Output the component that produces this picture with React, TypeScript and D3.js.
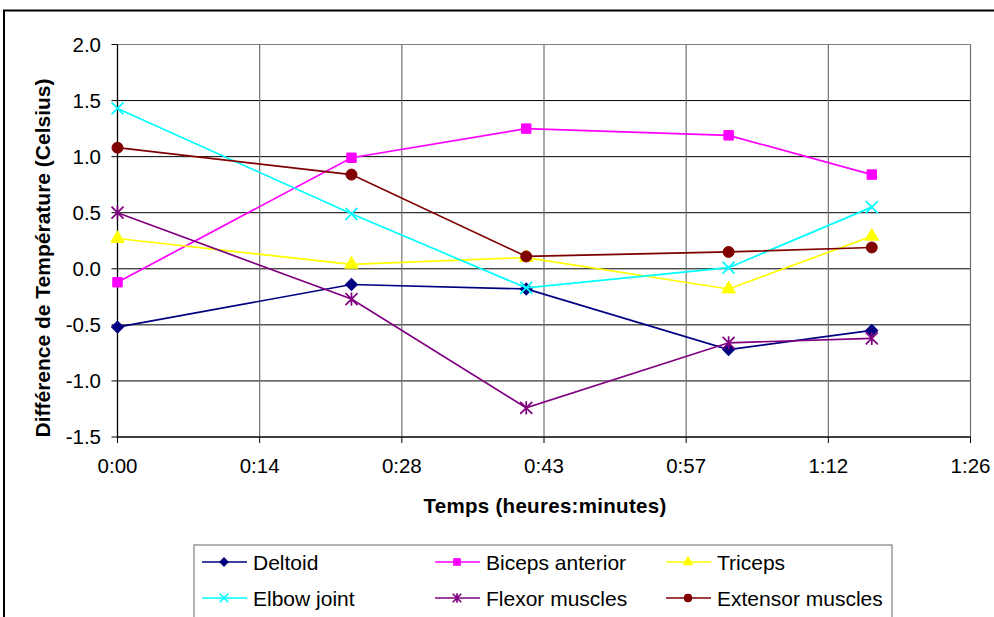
import React from "react";
import * as d3 from "d3";

const times = [0, 23.7, 41.4, 61.9, 76.4];
const seriesNames = ["Deltoid", "Biceps anterior", "Triceps", "Elbow joint", "Flexor muscles", "Extensor muscles"];
const deltoid = [-0.52, -0.14, -0.18, -0.72, -0.55];
const biceps = [-0.12, 0.99, 1.25, 1.19, 0.84];
const triceps = [0.27, 0.04, 0.1, -0.18, 0.29];
const elbow = [1.43, 0.49, -0.17, 0.01, 0.55];
const flexor = [0.5, -0.27, -1.24, -0.66, -0.62];
const extensor = [1.08, 0.84, 0.11, 0.15, 0.19];
const seriesValues = [deltoid, biceps, triceps, elbow, flexor, extensor];
const seriesColors = ["#000080", "#FF00FF", "#FFFF00", "#00FFFF", "#800080", "#800000"];
const seriesMarkers = ["diamond", "square", "triangle", "x", "star", "circle"];

const xTickValues = [0, 14.4, 28.8, 43.2, 57.6, 72, 86.4];
const xTickLabels = ["0:00", "0:14", "0:28", "0:43", "0:57", "1:12", "1:26"];
const yTickValues = [-1.5, -1.0, -0.5, 0.0, 0.5, 1.0, 1.5, 2.0];

const FONT = "'Liberation Sans', Arial, sans-serif";

function Marker({ type, cx, cy, color, s }: { type: string; cx: number; cy: number; color: string; s: number }) {
  const t = `translate(${cx},${cy})`;
  if (type === "diamond") {
    return <path transform={t + " rotate(45)"} d={d3.symbol(d3.symbolSquare, s * s * 0.5)() as string} fill={color} stroke={color} strokeWidth={1} />;
  }
  if (type === "square") {
    return <path transform={t} d={d3.symbol(d3.symbolSquare, s * s * 0.62)() as string} fill={color} stroke={color} strokeWidth={1} />;
  }
  if (type === "triangle") {
    return <path transform={t} d={d3.symbol(d3.symbolTriangle, s * s * 0.55)() as string} fill={color} stroke={color} strokeWidth={1} />;
  }
  if (type === "circle") {
    return <path transform={t} d={d3.symbol(d3.symbolCircle, s * s * 0.66)() as string} fill={color} stroke={color} strokeWidth={1} />;
  }
  const h = s / 2;
  if (type === "x") {
    return <path transform={t} d={`M${-h},${-h}L${h},${h}M${-h},${h}L${h},${-h}`} stroke={color} strokeWidth={1.7} fill="none" />;
  }
  // star (asterisk)
  return (
    <path
      transform={t}
      d={`M${-h},${-h}L${h},${h}M${-h},${h}L${h},${-h}M0,${-h * 1.1}L0,${h * 1.1}`}
      stroke={color}
      strokeWidth={1.7}
      fill="none"
    />
  );
}

export default function App() {
  const W = 994;
  const H = 617;
  const x = d3.scaleLinear().domain([0, 86.4]).range([117.5, 970.5]);
  const y = d3.scaleLinear().domain([-1.5, 2.0]).range([437, 44.5]);
  const line = d3
    .line<number>()
    .x((_, i) => x(times[i]))
    .y((d) => y(d));
  const fmt = (v: number) => d3.format(".1f")(v).replace("\u2212", "-");

  const legendCols = [202, 435, 666];
  const legendRows = [562, 598];

  return (
    <svg width={W} height={H} style={{ position: "absolute", left: 0, top: 0, background: "#fff" }} fontFamily={FONT}>
      <rect x={0} y={0} width={W} height={H} fill="#fff" />
      {/* chart frame */}
      <rect x={4} y={10.5} width={1100} height={700} fill="none" stroke="#000" strokeWidth={2} />
      {/* plot area */}
      <rect x={x(0)} y={y(2)} width={x(86.4) - x(0)} height={y(-1.5) - y(2)} fill="#fff" />
      {/* horizontal gridlines */}
      {yTickValues.map((v) => (
        <line key={"hg" + v} x1={x(0)} x2={x(86.4)} y1={y(v)} y2={y(v)} stroke={v === 2 ? "#808080" : "#000"} strokeWidth={1} />
      ))}
      {/* vertical gridlines */}
      {xTickValues.map((v) => (
        <line key={"vg" + v} x1={x(v)} x2={x(v)} y1={y(2)} y2={y(-1.5)} stroke="#707070" strokeWidth={1.2} />
      ))}
      {/* axes */}
      <line x1={x(0)} x2={x(0)} y1={y(2)} y2={y(-1.5)} stroke="#000" strokeWidth={1.2} />
      <line x1={x(0)} x2={x(86.4)} y1={y(-1.5)} y2={y(-1.5)} stroke="#000" strokeWidth={1.2} />
      {yTickValues.map((v) => (
        <g key={"yt" + v}>
          <line x1={x(0) - 6} x2={x(0)} y1={y(v)} y2={y(v)} stroke="#000" />
          <text x={101} y={y(v) + 7} textAnchor="end" fontSize={20.5} fill="#000">
            {fmt(v)}
          </text>
        </g>
      ))}
      {xTickValues.map((v, i) => (
        <g key={"xt" + v}>
          <line x1={x(v)} x2={x(v)} y1={y(-1.5)} y2={y(-1.5) + 6} stroke="#000" />
          <text x={x(v)} y={473} textAnchor="middle" fontSize={20.5} fill="#000">
            {xTickLabels[i]}
          </text>
        </g>
      ))}
      {/* axis titles */}
      <text x={545} y={513} textAnchor="middle" fontSize={20.5} fontWeight="bold" fill="#000" letterSpacing={0.3}>
        Temps (heures:minutes)
      </text>
      <text
        transform={`translate(50,258) rotate(-90)`}
        textAnchor="middle"
        fontSize={21}
        fontWeight="bold"
        fill="#000"
      >
        Différence de Température (Celsius)
      </text>
      {/* series */}
      {seriesValues.map((vals, si) => (
        <g key={"s" + si}>
          <path d={line(vals) as string} fill="none" stroke={seriesColors[si]} strokeWidth={1.7} />
          {vals.map((v, i) => (
            <Marker key={i} type={seriesMarkers[si]} cx={x(times[i])} cy={y(v)} color={seriesColors[si]} s={12} />
          ))}
        </g>
      ))}
      {/* legend */}
      <rect x={194} y={545} width={698} height={100} fill="#fff" stroke="#808080" strokeWidth={1.2} />
      {seriesNames.map((name, i) => {
        const cx = legendCols[i % 3];
        const cy = legendRows[Math.floor(i / 3)];
        return (
          <g key={"lg" + i}>
            <line x1={cx} x2={cx + 45} y1={cy} y2={cy} stroke={seriesColors[i]} strokeWidth={1.7} />
            <Marker type={seriesMarkers[i]} cx={cx + 22} cy={cy} color={seriesColors[i]} s={8.5} />
            <text x={cx + 51} y={cy + 7.5} fontSize={21} fill="#000">
              {name}
            </text>
          </g>
        );
      })}
    </svg>
  );
}
